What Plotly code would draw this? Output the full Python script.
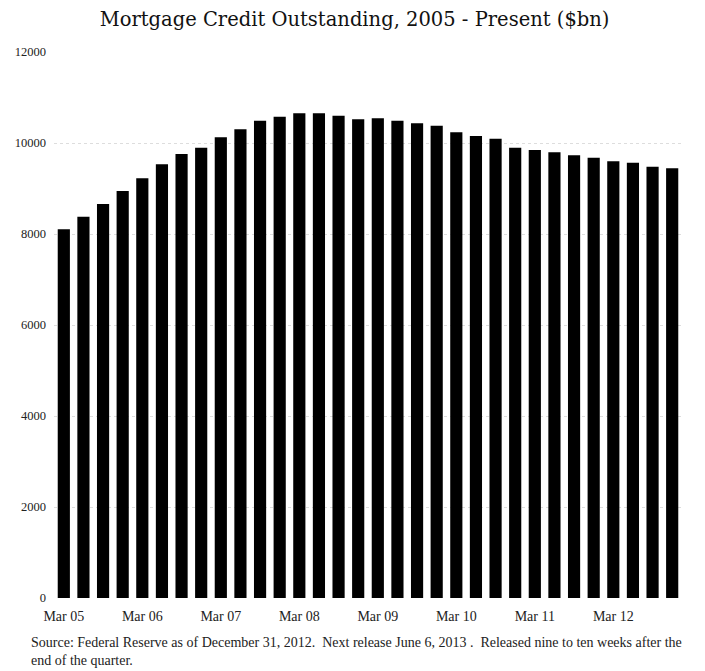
import plotly.graph_objects as go

quarters = []
for yy in range(5, 13):
    for m in ["Mar", "Jun", "Sep", "Dec"]:
        quarters.append(f"{m} {yy:02d}")

values = [8103, 8380, 8659, 8945, 9224, 9531, 9758, 9897,
          10125, 10301, 10490, 10578, 10652, 10652, 10600, 10521,
          10543, 10490, 10432, 10380, 10235, 10154, 10095, 9897,
          9846, 9795, 9729, 9677, 9597, 9567, 9479, 9444]

tick_labels = [q for q in quarters if q.startswith("Mar")]
y_ticks = [0, 2000, 4000, 6000, 8000, 10000, 12000]

font_family = "Liberation Serif, Times New Roman, serif"
title_family = "DejaVu Serif, serif"

fig = go.Figure(go.Bar(x=quarters, y=values, marker=dict(color="black", line=dict(width=0))))

fig.update_layout(
    width=705, height=671,
    margin=dict(l=54, r=23, t=52, b=73),
    paper_bgcolor="white", plot_bgcolor="white",
    bargap=0.38,
    showlegend=False,
    font=dict(family=font_family, color="#222"),
    title=dict(text="Mortgage Credit Outstanding, 2005 - Present ($bn)",
               x=0.503, xanchor="center", y=0.972, yanchor="middle",
               font=dict(size=19.5, family=title_family, color="#111")),
)
fig.update_xaxes(
    type="category", tickmode="array", tickvals=tick_labels, ticktext=tick_labels,
    tickangle=0, showgrid=False, showline=False, zeroline=False,
    ticks="", ticklabelstandoff=8,
    tickfont=dict(size=14, family=font_family, color="#222"),
)
fig.update_yaxes(
    range=[0, 12000], tickmode="array", tickvals=y_ticks,
    ticktext=[str(v) for v in y_ticks],
    showgrid=True, gridcolor="#dddddd", griddash="dot", gridwidth=1,
    zeroline=False, showline=False, ticks="", ticklabelstandoff=7,
    tickfont=dict(size=12.5, family=font_family, color="#222"),
)

fig.add_annotation(
    text="Source: Federal Reserve as of December 31, 2012.  Next release June 6, 2013 .  Released nine to ten weeks after the<br>end of the quarter.",
    xref="paper", yref="paper", x=-0.04, y=-0.064, xanchor="left", yanchor="top",
    align="left", showarrow=False,
    font=dict(size=14, family=font_family, color="#222"),
)

fig.write_html("out.html")
